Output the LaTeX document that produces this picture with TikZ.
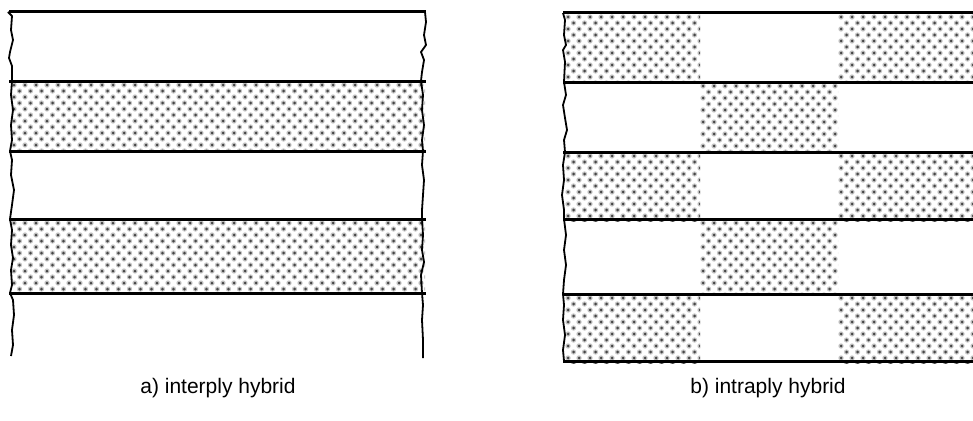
\documentclass[tikz,border=0pt]{standalone}
\usepackage{fontspec}
\setmainfont{Liberation Sans}
\begin{document}
\begin{tikzpicture}[x=1pt,y=-1pt,
  hline/.style={line width=3pt},
  edge/.style={line width=1.8pt, line join=round},
  dothalo/.style={fill=black!22},
  dotc/.style={fill=black!72},
  lbl/.style={font=\fontsize{21}{25}\selectfont, inner sep=0pt}]
\useasboundingbox (0,0) rectangle (973,420);
\newcommand\hexdots[5]{%
  \begin{scope}
  \clip (#1,#2) rectangle (#3,#4);
  \foreach \r in {0,...,12} {
    \foreach \c in {0,...,#5} {
      \fill[dothalo] ({#1+3+\c*11+mod(\r,2)*5.5},{#2+4+\r*6}) circle (2.7);
      \fill[dotc] ({#1+3+\c*11+mod(\r,2)*5.5},{#2+4+\r*6}) circle (1.5);
    }
  }
  \end{scope}}
% ---------- left panel ----------
\hexdots{11}{81}{425}{151}{38}
\hexdots{11}{219}{425}{293}{38}
\foreach \y in {12,81,151,219,293} {\draw[hline] (9,\y) -- (426,\y);}
\draw[edge] (8,12) -- (12,16) -- (11,30) -- (13,40) -- (10,52) -- (9,58) -- (12,66) -- (12,81)
  -- (11,95) -- (13,110) -- (11,125) -- (12,140) -- (10,151) -- (12,160) -- (11,175) -- (14,190)
  -- (12,205) -- (10,219) -- (12,230) -- (11,245) -- (13,258) -- (11,270) -- (12,285) -- (10,293)
  -- (13,300) -- (14,315) -- (12,330) -- (13,345) -- (11,356);
\draw[edge] (425,12) -- (426,22) -- (424,35) -- (426,45) -- (421,52) -- (424,60) -- (422,72) -- (421,81)
  -- (423,95) -- (422,110) -- (424,125) -- (422,140) -- (423,151) -- (422,165) -- (424,180) -- (423,195)
  -- (422,210) -- (422,219) -- (423,235) -- (422,250) -- (424,262) -- (421,275) -- (422,293)
  -- (423,305) -- (422,320) -- (423,340) -- (423,358);
% ---------- right panel ----------
\foreach \y in {13,152,294} {
  \hexdots{565}{\y}{700}{\y+69}{12}
  \hexdots{838}{\y}{973}{\y+69}{12}
}
\hexdots{700}{82}{838}{152}{12}
\hexdots{700}{219}{838}{294}{12}
\foreach \y in {13,82,152,219,294,361} {\draw[hline] (563,\y) -- (973,\y);}
\draw[edge] (563,13) -- (565,20) -- (564,35) -- (566,45) -- (563,50) -- (565,62) -- (564,82)
  -- (566,95) -- (563,105) -- (565,118) -- (567,130) -- (564,140) -- (565,152) -- (563,165) -- (564,180)
  -- (562,195) -- (564,210) -- (564,219) -- (566,235) -- (564,250) -- (566,265) -- (564,280) -- (563,294)
  -- (564,305) -- (563,320) -- (565,335) -- (563,350) -- (564,361);
% ---------- labels ----------
\node[lbl] (la) at (218,388) {a) interply hybrid};
\node[lbl] (lb) at (768,388) {b) intraply hybrid};
\end{tikzpicture}
\end{document}
